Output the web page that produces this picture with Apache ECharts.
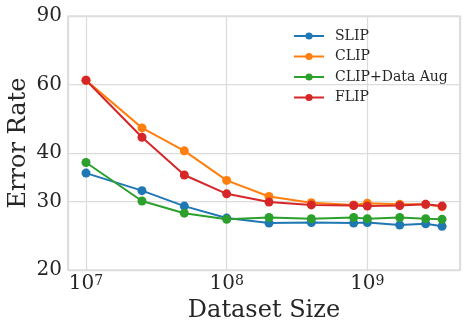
<!DOCTYPE html>
<html><head><meta charset="utf-8">
<script src="https://cdn.jsdelivr.net/npm/echarts@6/dist/echarts.min.js"></script>
<style>html,body{margin:0;padding:0;background:#fff}#c{width:468px;height:332px}</style>
</head><body><div id="c"></div>
<script>
const datasetSizes = [1e7, 2.5e7, 5e7, 1e8, 2e8, 4e8, 8e8, 1e9, 1.7e9, 2.6e9, 3.4e9];
const slip = [35.5, 32.0, 29.2, 27.2, 26.4, 26.5, 26.4, 26.5, 26.1, 26.3, 25.9];
const clip = [61.5, 46.4, 40.5, 34.0, 30.9, 29.8, 29.4, 29.7, 29.5, 29.5, 29.1];
const clipAug = [37.8, 30.1, 28.0, 27.0, 27.3, 27.1, 27.3, 27.1, 27.3, 27.1, 27.0];
const flip = [61.5, 43.9, 35.1, 31.4, 29.9, 29.4, 29.3, 29.2, 29.3, 29.5, 29.2];
const seriesNames = ['SLIP', 'CLIP', 'CLIP+Data Aug', 'FLIP'];
const yTicks = [20, 30, 40, 60, 90];

const colors = ['#1f77b4', '#ff7f0e', '#2ca02c', '#d62728'];
const allData = [slip, clip, clipAug, flip];
const FONT = 'DejaVu Serif';
const TXT = '#262626';

const chart = echarts.init(document.getElementById('c'));
chart.setOption({
  animation: false,
  backgroundColor: '#fff',
  textStyle: {fontFamily: FONT},
  grid: {left: 68, right: 8, top: 16, bottom: 62, show: true, borderColor: '#cccccc', borderWidth: 1.25, containLabel: false, outerBoundsMode: 'none'},
  legend: {
    orient: 'vertical', left: 293, top: 29, padding: 0, itemWidth: 30, itemHeight: 9, itemGap: 6.5,
    textStyle: {fontFamily: FONT, fontSize: 14, color: TXT, padding: [0, 0, 0, 6]},
    data: seriesNames
  },
  xAxis: {
    type: 'log', logBase: 10, min: Math.pow(10, 6.872), max: Math.pow(10, 9.659),
    name: 'Dataset Size', nameLocation: 'middle', nameGap: 26,
    nameTextStyle: {fontFamily: FONT, fontSize: 24, color: TXT},
    axisLine: {show: false}, axisTick: {show: false},
    splitLine: {show: true, lineStyle: {color: '#dcdcdc', width: 1.25}},
    axisLabel: {
      showMinLabel: false, showMaxLabel: false, margin: 4,
      formatter: function (v) {
        const e = Math.log10(v);
        if (Math.abs(e - Math.round(e)) > 1e-6) return '';
        return '{b|10}{s|' + Math.round(e) + '}';
      },
      rich: {
        b: {fontFamily: FONT, fontSize: 20, color: TXT},
        s: {fontFamily: FONT, fontSize: 14, color: TXT, verticalAlign: 'top'}
      }
    }
  },
  yAxis: {
    type: 'log', logBase: 10, min: 20, max: 90,
    name: 'Error Rate', nameLocation: 'middle', nameGap: 37, nameMoveOverlap: false,
    nameTextStyle: {fontFamily: FONT, fontSize: 24, color: TXT},
    axisLine: {show: false},
    axisTick: {show: false, customValues: yTicks},
    splitLine: {show: true, lineStyle: {color: '#dcdcdc', width: 1.25}},
    axisLabel: {customValues: yTicks, fontFamily: FONT, fontSize: 20, color: TXT, margin: 6}
  },
  series: seriesNames.map((n, i) => ({
    name: n, type: 'line',
    data: datasetSizes.map((x, j) => [x, allData[i][j]]),
    symbol: 'circle', symbolSize: 9,
    lineStyle: {color: colors[i], width: 2},
    itemStyle: {color: colors[i]}
  }))
});
</script></body></html>
